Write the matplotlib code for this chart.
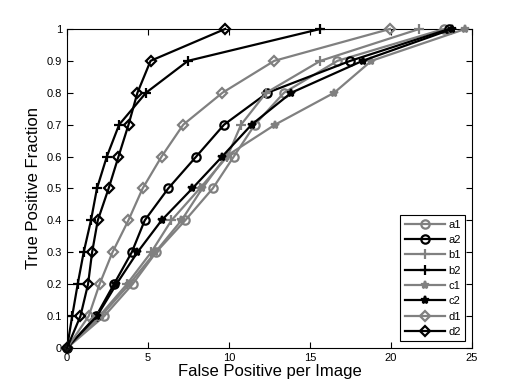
import matplotlib.pyplot as plt

plt.rcParams['font.family'] = ['Liberation Sans', 'DejaVu Sans']

# true positive fraction (shared by all curves)
tpf = [0, 0.1, 0.2, 0.3, 0.4, 0.5, 0.6, 0.7, 0.8, 0.9, 1.0]

# false positives per image
a1 = [0, 2.3, 4.05, 5.5, 7.3, 9.0, 10.3, 11.6, 13.4, 16.7, 23.3]
a2 = [0, 1.8, 2.9, 4.0, 4.8, 6.25, 7.98, 9.7, 12.38, 17.5, 23.6]
b1 = [0, 2.0, 3.7, 5.2, 6.45, 8.2, 9.9, 10.75, 12.3, 15.65, 21.76]
b2 = [0, 0.32, 0.66, 1.03, 1.48, 1.85, 2.46, 3.22, 4.88, 7.47, 15.65]
c1 = [0, 2.1, 3.85, 5.45, 7.07, 8.35, 9.8, 12.85, 16.5, 18.8, 24.6]
c2 = [0, 1.85, 3.05, 4.35, 5.84, 7.74, 9.58, 11.4, 13.85, 18.25, 23.8]
d1 = [0, 1.34, 2.01, 2.81, 3.79, 4.67, 5.84, 7.18, 9.6, 12.8, 19.95]
d2 = [0, 0.83, 1.3, 1.55, 1.9, 2.57, 3.18, 3.8, 4.35, 5.16, 9.77]

names = ['a1', 'a2', 'b1', 'b2', 'c1', 'c2', 'd1', 'd2']
series = [a1, a2, b1, b2, c1, c2, d1, d2]
markers = ['o', 'o', '+', '+', '*', '*', 'D', 'D']
msizes = [6, 6, 7, 7, 6, 6, 5, 5]
gray = '#808080'

fig = plt.figure(figsize=(5.21, 3.91), dpi=100)
ax = fig.add_axes([0.1286, 0.110, 0.777, 0.816])

for i, (name, xs) in enumerate(zip(names, series)):
    col = gray if i % 2 == 0 else 'black'
    face = 'none' if markers[i] in ('o', 'D') else col
    ax.plot(xs, tpf, color=col, marker=markers[i], markersize=msizes[i],
            markerfacecolor=face, markeredgecolor=col, markeredgewidth=1.6,
            linewidth=1.6, label=name, clip_on=False, zorder=3)

ax.set_xlim(0, 25)
ax.set_ylim(0, 1)
ax.set_xticks([0, 5, 10, 15, 20, 25])
ax.set_yticks(tpf)
ax.set_yticklabels(['0', '0.1', '0.2', '0.3', '0.4', '0.5', '0.6', '0.7', '0.8', '0.9', '1'])
ax.tick_params(direction='in', top=True, right=True, labelsize=8, length=4)
ax.set_xlabel('False Positive per Image', fontsize=12, labelpad=1)
ax.set_ylabel('True Positive Fraction', fontsize=12, labelpad=4)

leg = ax.legend(loc='lower right', fontsize=8, fancybox=False, framealpha=1,
                edgecolor='black', handlelength=3.6, labelspacing=0.48,
                borderaxespad=0.6, handletextpad=0.3, borderpad=0.4)
leg.get_frame().set_linewidth(0.8)
leg.set_zorder(5)

fig.savefig('out.png', dpi=100)
